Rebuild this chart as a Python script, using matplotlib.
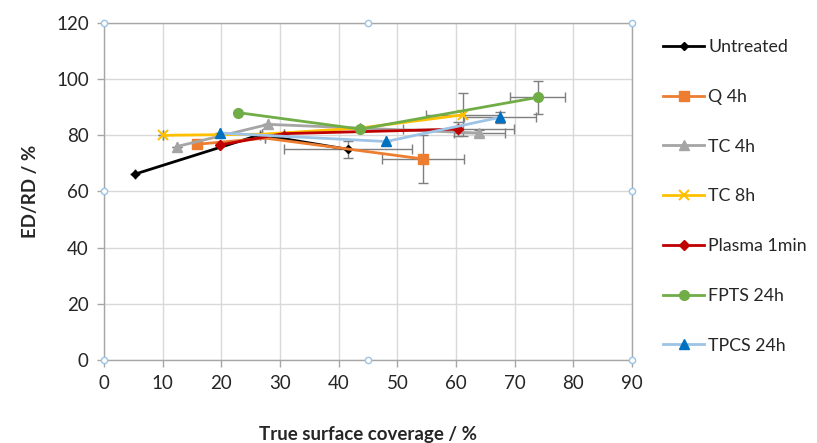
import matplotlib.pyplot as plt

plt.rcParams['font.family'] = ['Lato', 'DejaVu Sans']

# coverage (x) vs ED/RD (y), one list pair per treatment
untreated_x = [5.3, 26.6, 41.6]
untreated_y = [66.2, 80.2, 75.0]
q4_x = [15.8, 27.5, 54.3]
q4_y = [76.8, 79.0, 71.6]
tc4_x = [12.4, 28.0, 64.0]
tc4_y = [76.0, 83.9, 80.8]
tc8_x = [10.0, 27.0, 43.7, 61.2]
tc8_y = [80.0, 80.4, 82.6, 87.3]
plasma_x = [19.8, 30.6, 60.4]
plasma_y = [76.6, 80.6, 82.2]
fpts_x = [22.8, 43.7, 73.9]
fpts_y = [88.1, 82.2, 93.5]
tpcs_x = [19.8, 48.1, 67.5]
tpcs_y = [80.8, 77.8, 86.4]

# error bars (zero where none is drawn)
untreated_xerr = [0, 0, 10.9]
untreated_yerr = [0, 0, 3.0]
q4_xerr = [0, 0, 7.0]
q4_yerr = [0, 0, 8.5]
tc4_xerr = [0, 0, 4.3]
tc4_yerr = [0, 0, 1.2]
tc8_xerr = [0, 0, 0, 6.3]
tc8_yerr = [0, 0, 0, 7.6]
plasma_xerr = [0, 0, 9.4]
plasma_yerr = [0, 0, 2.6]
fpts_xerr = [0, 0, 4.7]
fpts_yerr = [0, 0, 6.0]
tpcs_xerr = [0, 0, 6.2]
tpcs_yerr = [0, 0, 2.0]

series = [
    ("Untreated", untreated_x, untreated_y, untreated_xerr, untreated_yerr, "black", "black", "D", 4.5),
    ("Q 4h", q4_x, q4_y, q4_xerr, q4_yerr, "#ED7D31", "#ED7D31", "s", 6.5),
    ("TC 4h", tc4_x, tc4_y, tc4_xerr, tc4_yerr, "#A5A5A5", "#A5A5A5", "^", 7),
    ("TC 8h", tc8_x, tc8_y, tc8_xerr, tc8_yerr, "#FFC000", "#FFC000", "x", 7),
    ("Plasma 1min", plasma_x, plasma_y, plasma_xerr, plasma_yerr, "#C00000", "#C00000", "D", 5),
    ("FPTS 24h", fpts_x, fpts_y, fpts_xerr, fpts_yerr, "#70AD47", "#70AD47", "o", 7),
    ("TPCS 24h", tpcs_x, tpcs_y, tpcs_xerr, tpcs_yerr, "#9DC3E6", "#0070C0", "^", 7),
]

# markers that sit under other series are left out
hidden = {"Q 4h": [1], "TC 8h": [1, 2], "Untreated": [1], "Plasma 1min": [1]}

fig = plt.figure(figsize=(8.17, 4.43), dpi=100)
ax = fig.add_axes([0.1273, 0.1874, 0.6463, 0.7607])

handles = []
for name, xs, ys, xe, ye, lc, mc, mk, ms in series:
    ax.errorbar(xs, ys, xerr=xe, yerr=ye, fmt="none", ecolor="#7F7F7F",
                elinewidth=1.0, capsize=3.5, capthick=1.0, zorder=2)
    show = [i for i in range(len(xs)) if i not in hidden.get(name, [])]
    h, = ax.plot(xs, ys, color=lc, lw=2.0, marker=mk, ms=ms, mfc=mc, mec=mc,
                 mew=1.5 if mk == "x" else 1.0, markevery=show, label=name,
                 zorder=3)
    # smaller markers for the hidden points
    hid = hidden.get(name, [])
    if hid and name in ("Untreated", "Plasma 1min"):
        ax.plot([xs[i] for i in hid], [ys[i] for i in hid], ls="none",
                marker=mk, ms=ms * 0.6, mfc=mc, mec=mc, zorder=3)
    handles.append(h)

ax.set_xlim(0, 90)
ax.set_ylim(0, 120)
ax.set_xticks(range(0, 91, 10))
ax.set_yticks(range(0, 121, 20))
ax.grid(True, color="#D9D9D9", lw=1.0)
ax.set_axisbelow(True)
for s in ax.spines.values():
    s.set_color("#A6A6A6")
    s.set_linewidth(1.0)
ax.tick_params(colors="#A6A6A6", labelcolor="#262626", labelsize=13.5, length=5,
               width=1.0, pad=6)
ax.set_xlabel("True surface coverage / %", fontsize=13.5, fontweight="bold",
              color="#262626", labelpad=24)
ax.set_ylabel("ED/RD / %", fontsize=13.5, fontweight="bold", color="#262626",
              labelpad=12)

# plot-area selection handles
hx = [0, 0.5, 1, 0, 1, 0, 0.5, 1]
hy = [1, 1, 1, 0.5, 0.5, 0, 0, 0]
ax.plot(hx, hy, ls="none", marker="o", ms=4.5, mfc="white", mec="#9DC3E6",
        mew=1.0, transform=ax.transAxes, clip_on=False, zorder=5)

fig.legend(handles=handles, loc="upper left", bbox_to_anchor=(0.803, 0.928),
           frameon=False, fontsize=12.8, handlelength=2.3, handletextpad=0.25,
           labelspacing=1.9, borderaxespad=0, labelcolor="#262626")

fig.savefig("out.png", dpi=100)
